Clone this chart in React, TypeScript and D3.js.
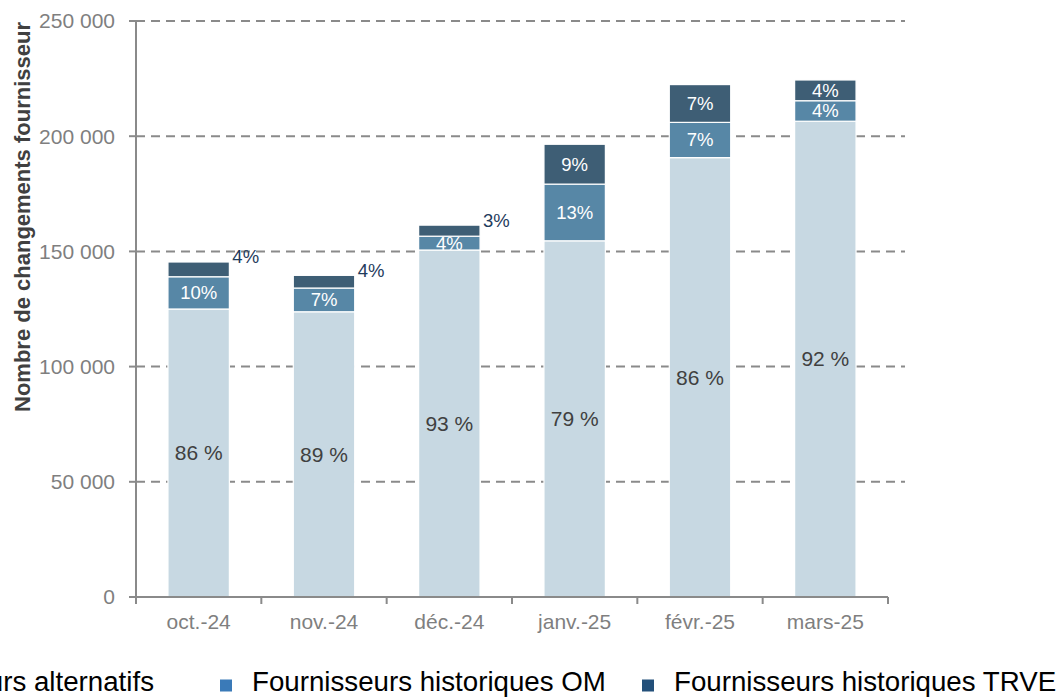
import React, { useEffect, useRef } from 'react';
import * as d3 from 'd3';

const months = ['oct.-24', 'nov.-24', 'déc.-24', 'janv.-25', 'févr.-25', 'mars-25'];
const alternatifs = [125000, 123800, 150600, 154600, 190700, 206500];
const historiquesOM = [14000, 10300, 6000, 24600, 15300, 8900];
const historiquesTRVE = [6400, 5500, 4800, 17300, 16400, 9000];
const pctAlternatifs = ['86 %', '89 %', '93 %', '79 %', '86 %', '92 %'];
const pctOM = ['10%', '7%', '4%', '13%', '7%', '4%'];
const pctTRVE = ['4%', '4%', '3%', '9%', '7%', '4%'];
const yTicks = [0, 50000, 100000, 150000, 200000, 250000];
const legendLabels = ['Fournisseurs alternatifs', 'Fournisseurs historiques OM', 'Fournisseurs historiques TRVE'];

const WIDTH = 1061;
const HEIGHT = 698;
const FONT = 'Liberation Sans, Arial, sans-serif';

const App = () => {
    const svgRef = useRef<SVGSVGElement>(null);

    useEffect(() => {
        const svg = d3.select(svgRef.current);
        svg.selectAll('*').remove();

        const x0 = 136, x1 = 888, yTop = 21, yBottom = 597;
        const axisColor = '#8a8a8a';
        const tickColor = '#7f7f7f';

        const xScale = d3.scaleBand<string>()
            .domain(months)
            .range([x0, x1])
            .paddingInner(0.51)
            .paddingOuter(0.255);

        const yScale = d3.scaleLinear()
            .domain([0, 250000])
            .range([yBottom, yTop]);

        const fmt = (v: number) => d3.format(',')(v).replace(/,/g, ' ');

        // gridlines
        svg.append('g').selectAll('line')
            .data(yTicks.filter(d => d > 0))
            .join('line')
            .attr('x1', x0).attr('x2', 905)
            .attr('y1', d => yScale(d)).attr('y2', d => yScale(d))
            .attr('stroke', axisColor)
            .attr('stroke-width', 2)
            .attr('stroke-dasharray', '9,6');

        // stacked bars
        const series = [
            { key: 'alt', values: alternatifs, labels: pctAlternatifs, color: '#c7d8e2' },
            { key: 'om', values: historiquesOM, labels: pctOM, color: '#5787a6' },
            { key: 'trve', values: historiquesTRVE, labels: pctTRVE, color: '#3e5e75' },
        ];
        const defs = svg.append('defs');
        const bars = svg.append('g');
        const labels = svg.append('g').attr('font-family', FONT);

        months.forEach((m, i) => {
            let base = 0;
            const bx = xScale(m)!;
            const bw = xScale.bandwidth();
            series.forEach((s, si) => {
                const v = s.values[i];
                const top = yScale(base + v);
                const bottom = yScale(base);
                const h = bottom - top;
                bars.append('rect')
                    .attr('x', bx).attr('y', top)
                    .attr('width', bw).attr('height', h)
                    .attr('fill', s.color)
                    .attr('stroke', '#ffffff')
                    .attr('stroke-width', 1.2);

                if (si === 0) {
                    labels.append('text')
                        .attr('x', bx + bw / 2)
                        .attr('y', (top + bottom) / 2)
                        .attr('dy', '0.35em')
                        .attr('text-anchor', 'middle')
                        .attr('font-size', 21)
                        .attr('fill', '#404040')
                        .text(s.labels[i]);
                } else if (si === 2 && h < 18) {
                    // small top segments: label sits outside, right of the bar
                    labels.append('text')
                        .attr('x', bx + bw + 3)
                        .attr('y', top - 5)
                        .attr('dy', '0.35em')
                        .attr('font-size', 18.5)
                        .attr('fill', '#1f3c5d')
                        .text(s.labels[i]);
                } else {
                    const id = `clip-${s.key}-${i}`;
                    defs.append('clipPath').attr('id', id)
                        .append('rect')
                        .attr('x', bx).attr('y', top)
                        .attr('width', bw).attr('height', h);
                    labels.append('text')
                        .attr('clip-path', `url(#${id})`)
                        .attr('x', bx + bw / 2)
                        .attr('y', (top + bottom) / 2)
                        .attr('dy', '0.35em')
                        .attr('text-anchor', 'middle')
                        .attr('font-size', 18.5)
                        .attr('fill', '#ffffff')
                        .text(s.labels[i]);
                }
                base += v;
            });
        });

        // y axis
        const yAxis = svg.append('g').attr('font-family', FONT);
        yAxis.append('line')
            .attr('x1', x0).attr('x2', x0)
            .attr('y1', yTop).attr('y2', yBottom)
            .attr('stroke', axisColor).attr('stroke-width', 2);
        yAxis.selectAll('line.tick')
            .data(yTicks)
            .join('line')
            .attr('class', 'tick')
            .attr('x1', x0 - 7).attr('x2', x0)
            .attr('y1', d => yScale(d)).attr('y2', d => yScale(d))
            .attr('stroke', axisColor).attr('stroke-width', 2);
        yAxis.selectAll('text')
            .data(yTicks)
            .join('text')
            .attr('x', 115)
            .attr('y', d => yScale(d))
            .attr('dy', '0.35em')
            .attr('text-anchor', 'end')
            .attr('font-size', 21)
            .attr('fill', tickColor)
            .text(d => fmt(d));

        // x axis
        const xAxis = svg.append('g').attr('font-family', FONT);
        xAxis.append('line')
            .attr('x1', x0).attr('x2', x1)
            .attr('y1', yBottom).attr('y2', yBottom)
            .attr('stroke', axisColor).attr('stroke-width', 2);
        const bounds = d3.range(months.length + 1).map(k => x0 + k * xScale.step());
        xAxis.selectAll('line.tick')
            .data(bounds)
            .join('line')
            .attr('class', 'tick')
            .attr('x1', d => d).attr('x2', d => d)
            .attr('y1', yBottom).attr('y2', yBottom + 7)
            .attr('stroke', axisColor).attr('stroke-width', 2);
        xAxis.selectAll('text')
            .data(months)
            .join('text')
            .attr('x', d => xScale(d)! + xScale.bandwidth() / 2)
            .attr('y', 629)
            .attr('text-anchor', 'middle')
            .attr('font-size', 21)
            .attr('fill', tickColor)
            .text(d => d);

        // y axis title
        svg.append('text')
            .attr('transform', 'translate(30,217) rotate(-90)')
            .attr('text-anchor', 'middle')
            .attr('font-family', FONT)
            .attr('font-weight', 'bold')
            .attr('font-size', 22)
            .attr('fill', '#404040')
            .text('Nombre de changements fournisseur');

        // legend (wider than the page: first and last entries run off the edges)
        const legendColors = ['#c7d8e2', '#3a7ab8', '#23507a'];
        const legend = svg.append('g').attr('font-family', FONT);
        const itemX = [null, 220, 642];
        legendLabels.forEach((label, i) => {
            const t = legend.append('text')
                .attr('y', 691)
                .attr('font-size', 27.7)
                .attr('fill', '#000000')
                .text(label);
            let sx: number;
            if (i === 0) {
                const w = (t.node() as SVGTextElement).getComputedTextLength();
                sx = 154 - w - 32;
            } else {
                sx = itemX[i] as number;
            }
            t.attr('x', sx + 32);
            legend.append('rect')
                .attr('x', sx).attr('y', 679.5)
                .attr('width', 12).attr('height', 12)
                .attr('fill', legendColors[i]);
        });
    }, []);

    return (
        <svg
            ref={svgRef}
            width={WIDTH}
            height={HEIGHT}
            style={{ position: 'absolute', left: 0, top: 0, background: '#ffffff' }}
        />
    );
};

export default App;
